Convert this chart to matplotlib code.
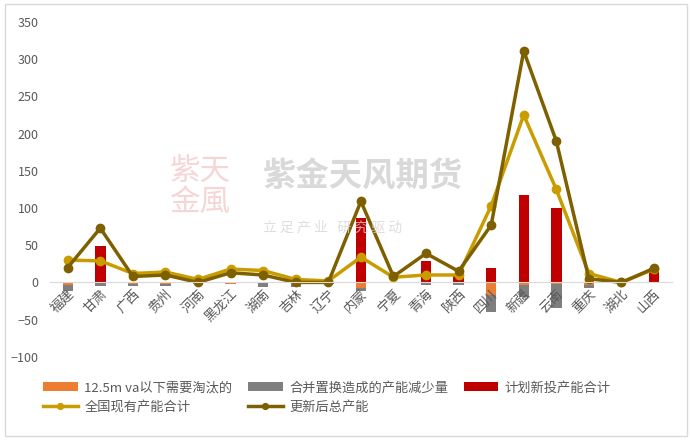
import numpy as np
from matplotlib import pyplot as plt
from matplotlib.patches import Rectangle

plt.rcParams['font.family'] = ['Noto Sans CJK SC', 'DejaVu Sans']

provinces = ['福建', '甘肃', '广西', '贵州', '河南', '黑龙江', '湖南', '吉林', '辽宁', '内蒙',
             '宁夏', '青海', '陕西', '四川', '新疆', '云南', '重庆', '湖北', '山西']
eliminate = [-3, 0, -1.5, -1.5, 0, -2, -1, -2, -1, -7,
             -1, 0, 0, -17, -4, -2, -4, 0, 0]
merge_cut = [-9, -5, -3, -3, -2, 0, -5, -4, -1, -4,
             0, -3, -4, -23, -16, -32, -3, 0, -1]
new_plan = [0, 49, 0, 0, 0, 0, 0, 0, 0, 86,
            0, 29, 9, 19, 118, 100, 0, 0, 19]
current_total = [30, 29, 12, 14, 4, 18, 16, 4, 2, 34,
                 7, 10, 10, 103, 225, 125, 12, 0, 18]
updated_total = [20, 73, 8, 10, 0, 13, 10, 0, 0, 109,
                 8, 39, 15, 77, 311, 190, 5, 0, 19]

c_orange = '#ED7D31'
c_gray = '#7F7F7F'
c_red = '#C00000'
c_gold = '#C99C00'
c_dark = '#7F6000'

fig = plt.figure(figsize=(6.92, 4.4), dpi=100)
ax = fig.add_axes([0.072, 0.189, 0.899, 0.761])

x = np.arange(len(provinces))
w = 0.32
elim = np.array(eliminate)
b1 = ax.bar(x, elim, w, color=c_orange, label='12.5m va以下需要淘汰的')
b2 = ax.bar(x, merge_cut, w, bottom=elim, color=c_gray, label='合并置换造成的产能减少量')
b3 = ax.bar(x, new_plan, w, color=c_red, label='计划新投产能合计')
l1, = ax.plot(x, current_total, color=c_gold, lw=2.5, marker='o', ms=6, label='全国现有产能合计')
l2, = ax.plot(x, updated_total, color=c_dark, lw=2.5, marker='o', ms=6, label='更新后总产能')

ax.set_ylim(-100, 350)
ax.set_xlim(-0.55, len(provinces) - 0.45)
ax.set_yticks(np.arange(-100, 351, 50))
for s in ['top', 'right', 'left']:
    ax.spines[s].set_visible(False)
ax.spines['bottom'].set_position(('data', 0))
ax.spines['bottom'].set_color('#D9D9D9')
ax.tick_params(axis='both', length=0, colors='#595959', labelsize=9)
ax.tick_params(axis='y', pad=8)
ax.set_xticks(x)
ax.set_xticklabels(provinces, rotation=45, ha='right', rotation_mode='anchor', fontsize=9.5)

# 水印
fig.text(0.38, 0.575, '紫金天风期货', fontsize=24, color='#D0D0D0', alpha=0.8, weight='bold')
fig.text(0.38, 0.475, '立 足 产 业   研 究 驱 动', fontsize=10, color='#D6D6D6', alpha=0.8)
fig.text(0.245, 0.52, '紫天\n金風', fontsize=22, color='#F2C4C4', alpha=0.7, linespacing=1.0)

handles = [b1, l1, b2, l2, b3]
labels = [h.get_label() for h in handles]
fig.legend(handles, labels, ncol=3, loc='upper left', bbox_to_anchor=(0.055, 0.145),
           frameon=False, fontsize=9.5, handlelength=2.6, columnspacing=1.2, markerscale=0.7,
           labelcolor='#595959', borderaxespad=0, handletextpad=0.5, labelspacing=0.5)

fig.patches.append(Rectangle((0.007, 0.01), 0.986, 0.98, transform=fig.transFigure,
                             fill=False, edgecolor='#D9D9D9', lw=1))

fig.savefig('out.png', dpi=100)
